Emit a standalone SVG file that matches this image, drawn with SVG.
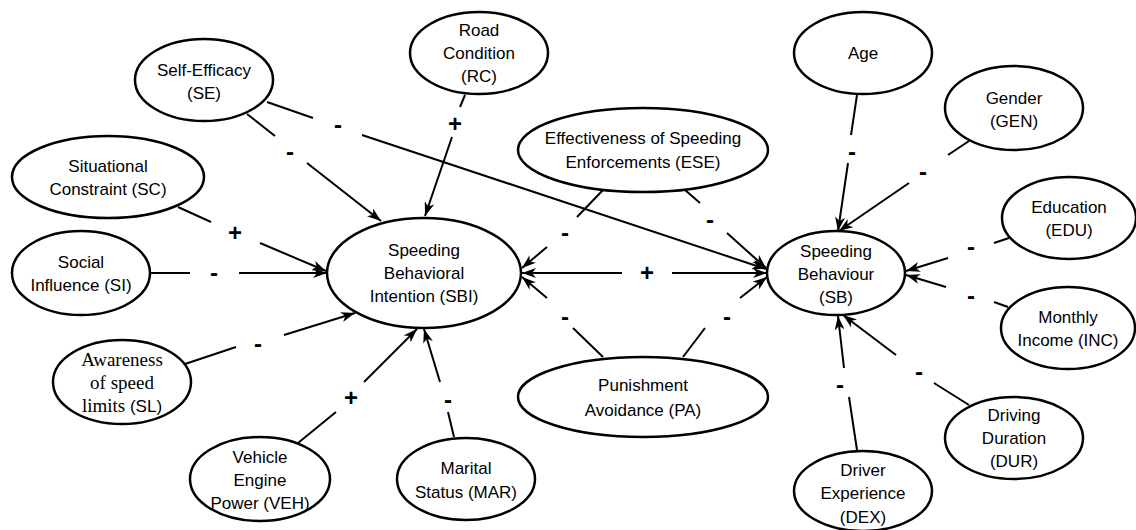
<svg xmlns="http://www.w3.org/2000/svg" width="1136" height="530" viewBox="0 0 1136 530">
<style>
.n ellipse{fill:#fff;stroke:#000;stroke-width:2.5}
.n text{font-family:"Liberation Sans",Arial,sans-serif;font-size:17px;text-anchor:middle;fill:#000}
.n text.serif{font-family:"Liberation Serif","Times New Roman",serif;font-size:19px}
.c line{stroke:#000;stroke-width:2;fill:none}
.c line.a{marker-end:url(#arr)}
.c line.b{marker-start:url(#arr)}
.lbl{font-family:"Liberation Sans",Arial,sans-serif;font-weight:bold;font-size:24px;text-anchor:middle;fill:#000}
</style>
<defs>
<marker id="arr" viewBox="0 0 14 10" refX="14" refY="5" markerWidth="14" markerHeight="10" markerUnits="userSpaceOnUse" orient="auto-start-reverse">
<path d="M0,0 L14,5 L0,10 L4,5 Z" fill="#000"/>
</marker>
</defs>
<rect width="1136" height="530" fill="#fff"/>

<g id="connectors" class="c">
<!-- SE -> SBI -->
<line x1="247" y1="114" x2="275" y2="136"/>
<line class="a" x1="307" y1="163" x2="381" y2="221"/>
<!-- SE -> SB -->
<line x1="267" y1="102" x2="313" y2="118"/>
<line class="a" x1="362" y1="135" x2="766" y2="269"/>
<!-- RC -> SBI -->
<line x1="465" y1="95" x2="460" y2="107"/>
<line class="a" x1="452" y1="137" x2="425" y2="216"/>
<!-- SC -> SBI -->
<line x1="178" y1="207" x2="211" y2="222"/>
<line class="a" x1="260" y1="243" x2="326" y2="271"/>
<!-- SI -> SBI -->
<line x1="150" y1="273" x2="190" y2="273"/>
<line class="a" x1="239" y1="273" x2="327" y2="273"/>
<!-- SL -> SBI -->
<line x1="185" y1="364" x2="236" y2="347"/>
<line class="a" x1="284" y1="335" x2="355" y2="313"/>
<!-- VEH -> SBI -->
<line x1="298" y1="443" x2="336" y2="412"/>
<line class="a" x1="364" y1="382" x2="417" y2="329"/>
<!-- MAR -> SBI -->
<line x1="454" y1="437" x2="448" y2="412"/>
<line class="a" x1="440" y1="382" x2="424" y2="329"/>
<!-- ESE -> SBI -->
<line x1="603" y1="190" x2="577" y2="217"/>
<line class="a" x1="547" y1="247" x2="522" y2="268"/>
<!-- ESE -> SB -->
<line x1="685" y1="190" x2="700" y2="203"/>
<line class="a" x1="727" y1="233" x2="766" y2="268"/>
<!-- SBI <-> SB -->
<line class="b" x1="522" y1="273" x2="622" y2="273"/>
<line class="a" x1="672" y1="273" x2="767" y2="273"/>
<!-- PA -> SBI -->
<line x1="603" y1="357" x2="573" y2="328"/>
<line class="a" x1="547" y1="298" x2="522" y2="277"/>
<!-- PA -> SB -->
<line x1="683" y1="357" x2="705" y2="328"/>
<line class="a" x1="740" y1="298" x2="767" y2="277"/>
<!-- Age -> SB -->
<line x1="857" y1="95" x2="851" y2="135"/>
<line class="a" x1="848" y1="163" x2="838" y2="231"/>
<!-- GEN -> SB -->
<line x1="969" y1="141" x2="948" y2="155"/>
<line class="a" x1="909" y1="183" x2="839" y2="231"/>
<!-- EDU -> SB -->
<line x1="1009" y1="238" x2="994" y2="243"/>
<line class="a" x1="948" y1="258" x2="906" y2="271"/>
<!-- INC -> SB -->
<line x1="1008" y1="307" x2="994" y2="302"/>
<line class="a" x1="946" y1="287" x2="906" y2="275"/>
<!-- DUR -> SB -->
<line x1="969" y1="405" x2="934" y2="383"/>
<line class="a" x1="896" y1="355" x2="843" y2="315"/>
<!-- DEX -> SB -->
<line x1="857" y1="450" x2="849" y2="397"/>
<line class="a" x1="844" y1="368" x2="838" y2="316"/>
</g>

<g id="labels">
<text class="lbl" x="290" y="160">-</text>
<text class="lbl" x="338" y="133">-</text>
<text class="lbl" x="455" y="132">+</text>
<text class="lbl" x="235" y="241">+</text>
<text class="lbl" x="214" y="281">-</text>
<text class="lbl" x="258" y="352">-</text>
<text class="lbl" x="351" y="406">+</text>
<text class="lbl" x="448" y="408">-</text>
<text class="lbl" x="565" y="241">-</text>
<text class="lbl" x="710" y="228">-</text>
<text class="lbl" x="647" y="281">+</text>
<text class="lbl" x="565" y="325">-</text>
<text class="lbl" x="727" y="325">-</text>
<text class="lbl" x="852" y="160">-</text>
<text class="lbl" x="923" y="180">-</text>
<text class="lbl" x="971" y="255">-</text>
<text class="lbl" x="971" y="304">-</text>
<text class="lbl" x="919" y="380">-</text>
<text class="lbl" x="840" y="393">-</text>
</g>

<g id="SE" class="n"><ellipse cx="204" cy="80" rx="69" ry="41"/><text x="204" y="76">Self-Efficacy</text><text x="204" y="99">(SE)</text></g>
<g id="SC" class="n"><ellipse cx="108" cy="177" rx="96" ry="41"/><text x="108" y="172">Situational</text><text x="108" y="195">Constraint (SC)</text></g>
<g id="SI" class="n"><ellipse cx="81" cy="273" rx="69" ry="42"/><text x="81" y="268">Social</text><text x="81" y="291">Influence (SI)</text></g>
<g id="SL" class="n"><ellipse cx="122" cy="382" rx="69" ry="42"/><text class="serif" x="122" y="366">Awareness</text><text class="serif" x="122" y="389">of speed</text><text class="serif" x="122" y="412">limits <tspan style="font-family:'Liberation Sans',Arial,sans-serif;font-size:17px">(SL)</tspan></text></g>
<g id="VEH" class="n"><ellipse cx="260" cy="479" rx="70" ry="42"/><text x="260" y="463">Vehicle</text><text x="260" y="486">Engine</text><text x="260" y="509">Power (VEH)</text></g>
<g id="MAR" class="n"><ellipse cx="466" cy="479" rx="69" ry="41"/><text x="466" y="474">Marital</text><text x="466" y="498">Status (MAR)</text></g>
<g id="SBI" class="n"><ellipse cx="424" cy="273" rx="97" ry="55"/><text x="424" y="256">Speeding</text><text x="424" y="279">Behavioral</text><text x="424" y="302">Intention (SBI)</text></g>
<g id="RC" class="n"><ellipse cx="479" cy="53" rx="69" ry="41"/><text x="479" y="36">Road</text><text x="479" y="59">Condition</text><text x="479" y="82">(RC)</text></g>
<g id="ESE" class="n"><ellipse cx="643" cy="150" rx="125" ry="42"/><text x="643" y="144">Effectiveness of Speeding</text><text x="643" y="168">Enforcements (ESE)</text></g>
<g id="PA" class="n"><ellipse cx="643" cy="397" rx="125" ry="40"/><text x="643" y="391">Punishment</text><text x="643" y="416">Avoidance (PA)</text></g>
<g id="AGE" class="n"><ellipse cx="863" cy="53" rx="69" ry="41"/><text x="863" y="59">Age</text></g>
<g id="GEN" class="n"><ellipse cx="1014" cy="108" rx="69" ry="42"/><text x="1014" y="104">Gender</text><text x="1014" y="127">(GEN)</text></g>
<g id="EDU" class="n"><ellipse cx="1069" cy="218" rx="67" ry="41"/><text x="1069" y="213">Education</text><text x="1069" y="236">(EDU)</text></g>
<g id="SB" class="n"><ellipse cx="836" cy="273" rx="69" ry="42"/><text x="836" y="257">Speeding</text><text x="836" y="280">Behaviour</text><text x="836" y="303">(SB)</text></g>
<g id="INC" class="n"><ellipse cx="1068" cy="328" rx="67" ry="41"/><text x="1068" y="323">Monthly</text><text x="1068" y="346">Income (INC)</text></g>
<g id="DUR" class="n"><ellipse cx="1014" cy="438" rx="69" ry="41"/><text x="1014" y="421">Driving</text><text x="1014" y="444">Duration</text><text x="1014" y="467">(DUR)</text></g>
<g id="DEX" class="n"><ellipse cx="863" cy="491" rx="69" ry="40"/><text x="863" y="476">Driver</text><text x="863" y="499">Experience</text><text x="863" y="523">(DEX)</text></g>
</svg>
